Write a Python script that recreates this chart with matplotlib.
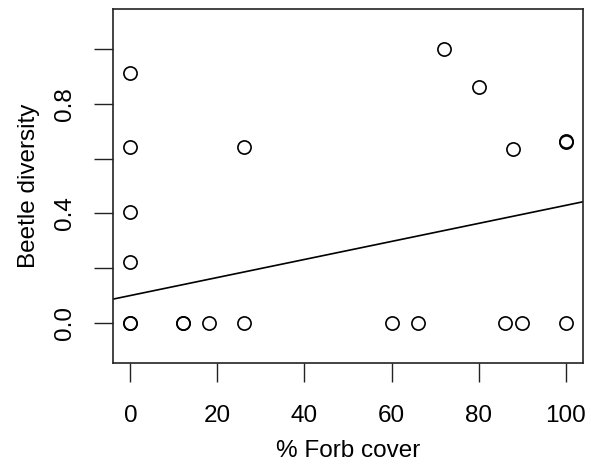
import matplotlib
matplotlib.use("Agg")
import matplotlib.pyplot as plt
import numpy as np

plt.rcParams['font.family'] = ['Liberation Sans', 'DejaVu Sans']

# data
forb_cover = [0, 0, 0, 0, 0, 0, 12, 12, 18, 26, 26, 60, 66, 72, 80, 86, 88, 90, 100, 100, 100]
beetle_div = [0.915, 0.642, 0.404, 0.22, 0.0, 0.0, 0.0, 0.0, 0.0, 0.642, 0.0, 0.0, 0.0,
              1.0, 0.864, 0.0, 0.636, 0.0, 0.662, 0.665, 0.0]

# fitted line (abline)
intercept = 0.099
slope = 0.0033

x_ticks = [0, 20, 40, 60, 80, 100]
y_ticks = [0.0, 0.2, 0.4, 0.6, 0.8, 1.0]
y_labels = ["0.0", "", "0.4", "", "0.8", ""]

fig = plt.figure(figsize=(5.91, 4.68), dpi=100)
ax = fig.add_axes([0.1912, 0.2244, 0.9865 - 0.1912, 0.9808 - 0.2244])

ax.plot(forb_cover, beetle_div, linestyle="none", marker="o", markersize=9.5,
        markerfacecolor="none", markeredgecolor="black", markeredgewidth=1.2)

ax.set_xlim(-4, 104)
ax.set_ylim(-0.148, 1.148)
xs = np.array(ax.get_xlim())
ax.plot(xs, intercept + slope * xs, color="black", linewidth=1.2)

ax.set_xticks(x_ticks)
ax.set_xticklabels([str(t) for t in x_ticks])
ax.set_yticks(y_ticks)
ax.set_yticklabels(y_labels, rotation=90, va="center")

ax.tick_params(axis="both", direction="out", length=13.5, width=1.0,
               labelsize=17.5, color="#222222")
ax.tick_params(axis="x", pad=17)
ax.tick_params(axis="y", pad=13)
for s in ax.spines.values():
    s.set_linewidth(1.2)
    s.set_color("#222222")

ax.set_xlabel("% Forb cover", fontsize=17.5, labelpad=9)
ax.set_ylabel("Beetle diversity", fontsize=17.5, labelpad=10)

fig.savefig("out.png", dpi=100)
